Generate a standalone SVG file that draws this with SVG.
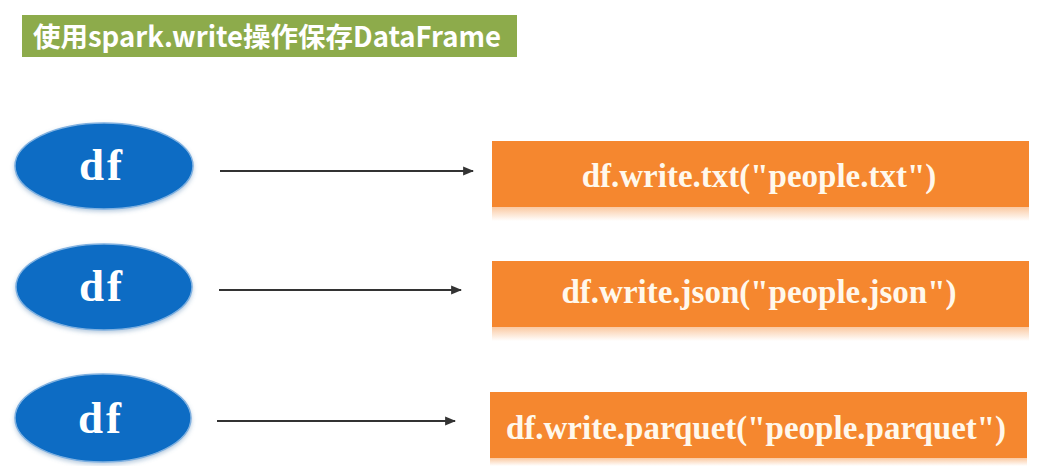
<svg xmlns="http://www.w3.org/2000/svg" width="1044" height="466" viewBox="0 0 1044 466">
<defs>
<style>
.title{font-family:"Noto Sans CJK SC","Liberation Sans",sans-serif;font-weight:bold;font-size:27.5px;fill:#ffffff}
.ell{fill:#0a6cc4;stroke:#7fb0e0;stroke-width:1.5}
.eltxt{font-family:"Liberation Serif",serif;font-weight:bold;font-size:45px;fill:#ffffff;text-anchor:middle;letter-spacing:3px}
.box{fill:#f5872f}
.bxtxt{font-family:"Liberation Serif",serif;font-weight:bold;font-size:33px;fill:#fff8ec;text-anchor:middle}
.conn{stroke:#333333;stroke-width:2;fill:none;marker-end:url(#arr)}
</style>
<marker id="arr" viewBox="0 0 10 10" refX="9" refY="5" markerWidth="5.5" markerHeight="5.5" orient="auto" markerUnits="strokeWidth">
<path d="M0,1 L10,5 L0,9 z" fill="#333333"/>
</marker>
<linearGradient id="refl" x1="0" y1="0" x2="0" y2="1">
<stop offset="0" stop-color="#f5872f" stop-opacity="0.45"/>
<stop offset="1" stop-color="#f5872f" stop-opacity="0"/>
</linearGradient>
<filter id="sh" x="-10%" y="-10%" width="120%" height="130%">
<feDropShadow dx="0" dy="2" stdDeviation="2" flood-color="#5080b0" flood-opacity="0.4"/>
</filter>
</defs>
<rect width="1044" height="466" fill="#ffffff"/>
<g id="title">
<rect x="22" y="15" width="495" height="42" fill="#8dab4b"/>
<text class="title" x="33" y="47">使用spark.write操作保存DataFrame</text>
</g>
<g id="connectors">
<line class="conn" x1="220" y1="171" x2="473" y2="171"/>
<line class="conn" x1="219" y1="290" x2="461" y2="290"/>
<line class="conn" x1="217" y1="421" x2="455" y2="421"/>
</g>
<g id="df1">
<ellipse class="ell" cx="104" cy="166" rx="89" ry="43" filter="url(#sh)"/>
<text class="eltxt" x="102" y="180">df</text>
</g>
<g id="df2">
<ellipse class="ell" cx="104" cy="287" rx="88" ry="43" filter="url(#sh)"/>
<text class="eltxt" x="102" y="301">df</text>
</g>
<g id="df3">
<ellipse class="ell" cx="103" cy="418" rx="88" ry="44" filter="url(#sh)"/>
<text class="eltxt" x="101" y="433">df</text>
</g>
<g id="txt">
<rect class="box" x="492" y="141" width="537" height="66"/>
<rect x="492" y="207" width="537" height="14" fill="url(#refl)"/>
<text class="bxtxt" x="759" y="187">df.write.txt("people.txt")</text>
</g>
<g id="json">
<rect class="box" x="492" y="261" width="537" height="66"/>
<rect x="492" y="327" width="537" height="14" fill="url(#refl)"/>
<text class="bxtxt" x="759" y="303">df.write.json("people.json")</text>
</g>
<g id="parquet">
<rect class="box" x="490" y="392" width="537" height="66"/>
<rect x="490" y="458" width="537" height="8" fill="url(#refl)"/>
<text class="bxtxt" x="756" y="439">df.write.parquet("people.parquet")</text>
</g>
</svg>
